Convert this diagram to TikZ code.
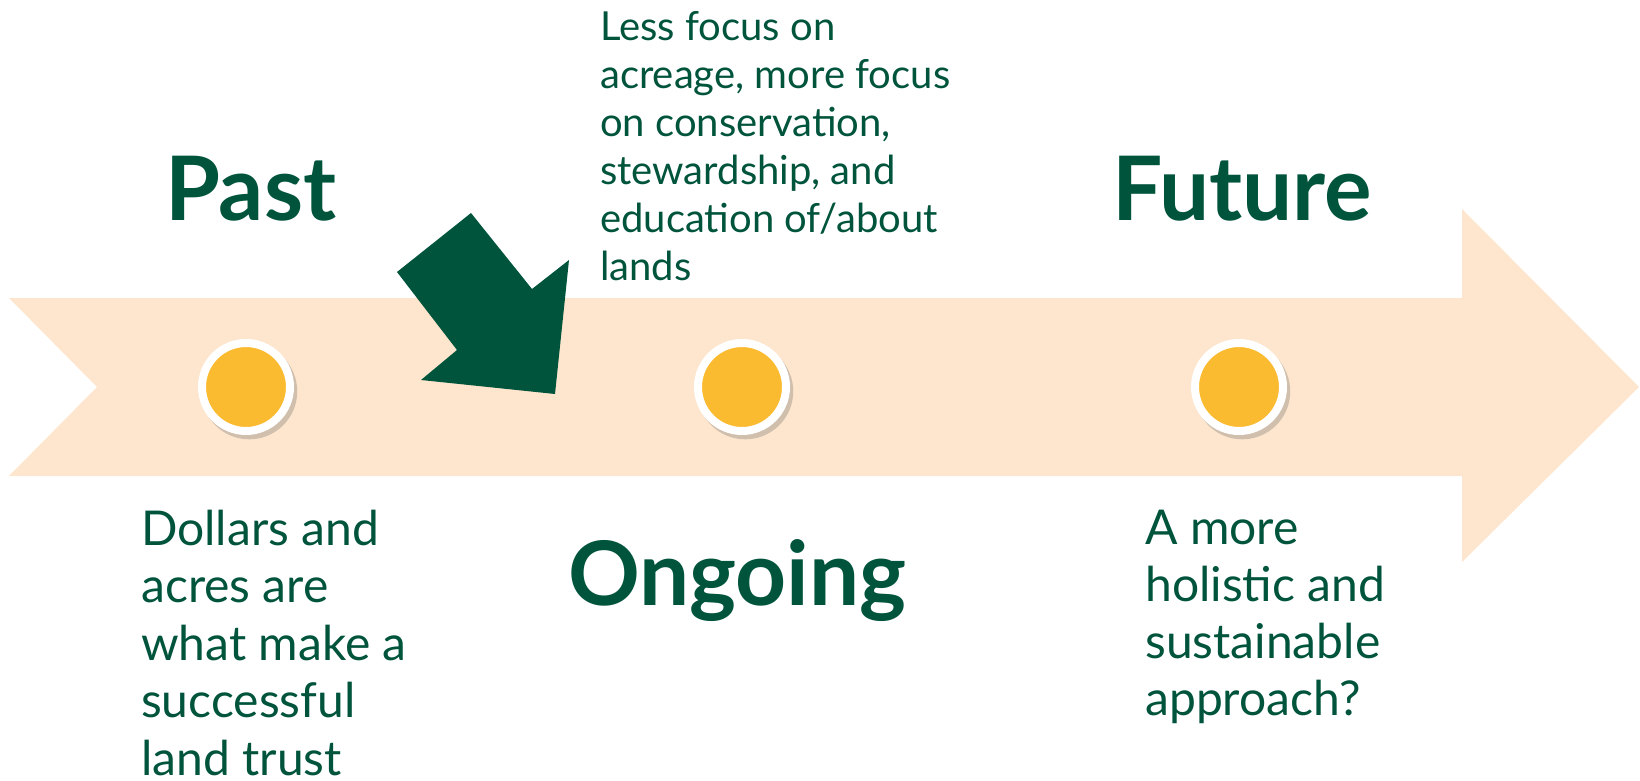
\documentclass[tikz,border=0pt]{standalone}
\usepackage{fontspec}
\setmainfont{Lato}
\usetikzlibrary{shadows}
\definecolor{bandpeach}{RGB}{253,230,205}
\definecolor{forestgreen}{RGB}{0,84,60}
\definecolor{dotyellow}{RGB}{251,187,48}
\begin{document}
\begin{tikzpicture}[x=1pt,y=-1pt,
    dot/.style={circle, fill=dotyellow, draw=white, line width=8pt,
      minimum size=88pt, inner sep=0pt,
      drop shadow={shadow xshift=3pt, shadow yshift=-4pt, shadow scale=1.09,
        opacity=0.25, fill=black!70}},
    heading/.style={text=forestgreen, inner sep=0pt, anchor=base west,
      font=\fontsize{89}{89}\selectfont\bfseries},
    note/.style={text=forestgreen, inner sep=0pt, anchor=base west, align=left}]
    \useasboundingbox (0,0) rectangle (1640,781);

    % timeline band
    \fill[bandpeach] (9,298) -- (1462,298) -- (1462,209) -- (1639,387)
        -- (1462,562) -- (1462,476) -- (9,476) -- (97,387) -- cycle;

    % turning arrow
    \fill[forestgreen] (471,213) -- (532,289) -- (569,260) -- (555,394)
        -- (421,380) -- (457,350) -- (397,272) -- cycle;

    \node[dot] (pastdot) at (246,387) {};
    \node[dot] (ongoingdot) at (742,387) {};
    \node[dot] (futuredot) at (1239,387) {};

    \node[heading] (past) at (165,220) {Past};
    \node[heading] (future) at (1112,220) {Future};
    \node[heading] (ongoing) at (568,605) {Ongoing};

    % notes sit on the baseline of their last line
    \node[note, font=\fontsize{40}{48}\selectfont] (shift) at (600,280)
        {Less focus on\\acreage, more focus\\on conservation,\\stewardship, and\\education of/about\\lands};
    \node[note, font=\fontsize{48}{57.5}\selectfont] (pastnote) at (141,775)
        {Dollars and\\acres are\\what make a\\successful\\land trust};
    \node[note, font=\fontsize{48}{56.7}\selectfont] (futurenote) at (1145,715)
        {A more\\holistic and\\sustainable\\approach?};
\end{tikzpicture}
\end{document}
